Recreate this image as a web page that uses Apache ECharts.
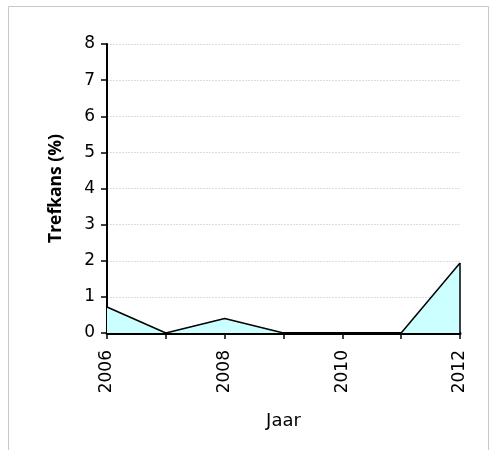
<!DOCTYPE html>
<html>
<head>
<meta charset="utf-8">
<script src="https://cdn.jsdelivr.net/npm/echarts@6/dist/echarts.min.js"></script>
<style>
  html, body { margin: 0; padding: 0; background: #fff; }
  #chart { width: 496px; height: 450px; }
</style>
</head>
<body>
<div id="chart"></div>
<script>
// Years along the horizontal axis and the hit rate per year (%)
const years = ['2006', '2007', '2008', '2009', '2010', '2011', '2012'];
const trefkans = [0.72, 0, 0.4, 0, 0, 0, 1.94];
const yTicks = { min: 0, max: 8, interval: 1 };

const FONT = '"DejaVu Sans", sans-serif';
const NAME_FONT = '"Open Sans", sans-serif';
const chart = echarts.init(document.getElementById('chart'), null, { renderer: 'canvas' });

// closing edge of the filled area at the last year
const lastIdx = trefkans.length - 1;
const closingEdge = [[
  { coord: [years[lastIdx], 0] },
  { coord: [years[lastIdx], trefkans[lastIdx]] }
]];

chart.setOption({
  animation: false,
  backgroundColor: '#ffffff',
  graphic: [{
    type: 'rect',
    shape: { x: 8.5, y: 6.5, width: 480, height: 460 },
    style: { fill: 'none', stroke: '#c8c8c8', lineWidth: 1 },
    silent: true
  }],
  grid: { left: 107, right: 36, top: 44, bottom: 117, containLabel: false },
  xAxis: {
    type: 'category',
    data: years,
    boundaryGap: false,
    name: 'Jaar',
    nameLocation: 'middle',
    nameGap: 79,
    nameTextStyle: { fontFamily: FONT, fontSize: 18, color: '#000' },
    axisLine: { lineStyle: { color: '#000', width: 3 } },
    axisTick: { show: true, interval: 0, length: 6, lineStyle: { color: '#000', width: 1.5 } },
    axisLabel: {
      interval: 1,
      rotate: 90,
      margin: 17,
      fontFamily: FONT,
      fontSize: 17,
      color: '#000'
    },
    splitLine: { show: false }
  },
  yAxis: {
    type: 'value',
    min: yTicks.min,
    max: yTicks.max,
    interval: yTicks.interval,
    name: 'Trefkans (%)',
    nameLocation: 'middle',
    nameGap: 42,
    nameTextStyle: { fontFamily: NAME_FONT, fontSize: 17.5, fontWeight: 'bold', color: '#000' },
    axisLine: { show: true, lineStyle: { color: '#000', width: 2 } },
    axisTick: { show: true, length: 6, lineStyle: { color: '#000', width: 1.5 } },
    axisLabel: { margin: 12, fontFamily: FONT, fontSize: 17, color: '#000' },
    splitLine: { show: true, lineStyle: { color: '#dcdcdc', width: 1, type: [2, 1] } }
  },
  series: [{
    type: 'line',
    data: trefkans,
    symbol: 'none',
    lineStyle: { color: '#000', width: 1.5 },
    areaStyle: { color: '#ccffff', opacity: 1 },
    z: 1,
    markLine: {
      silent: true,
      symbol: ['none', 'none'],
      label: { show: false },
      lineStyle: { color: '#000', width: 1.5, type: 'solid' },
      data: closingEdge
    }
  }]
});
</script>
</body>
</html>
